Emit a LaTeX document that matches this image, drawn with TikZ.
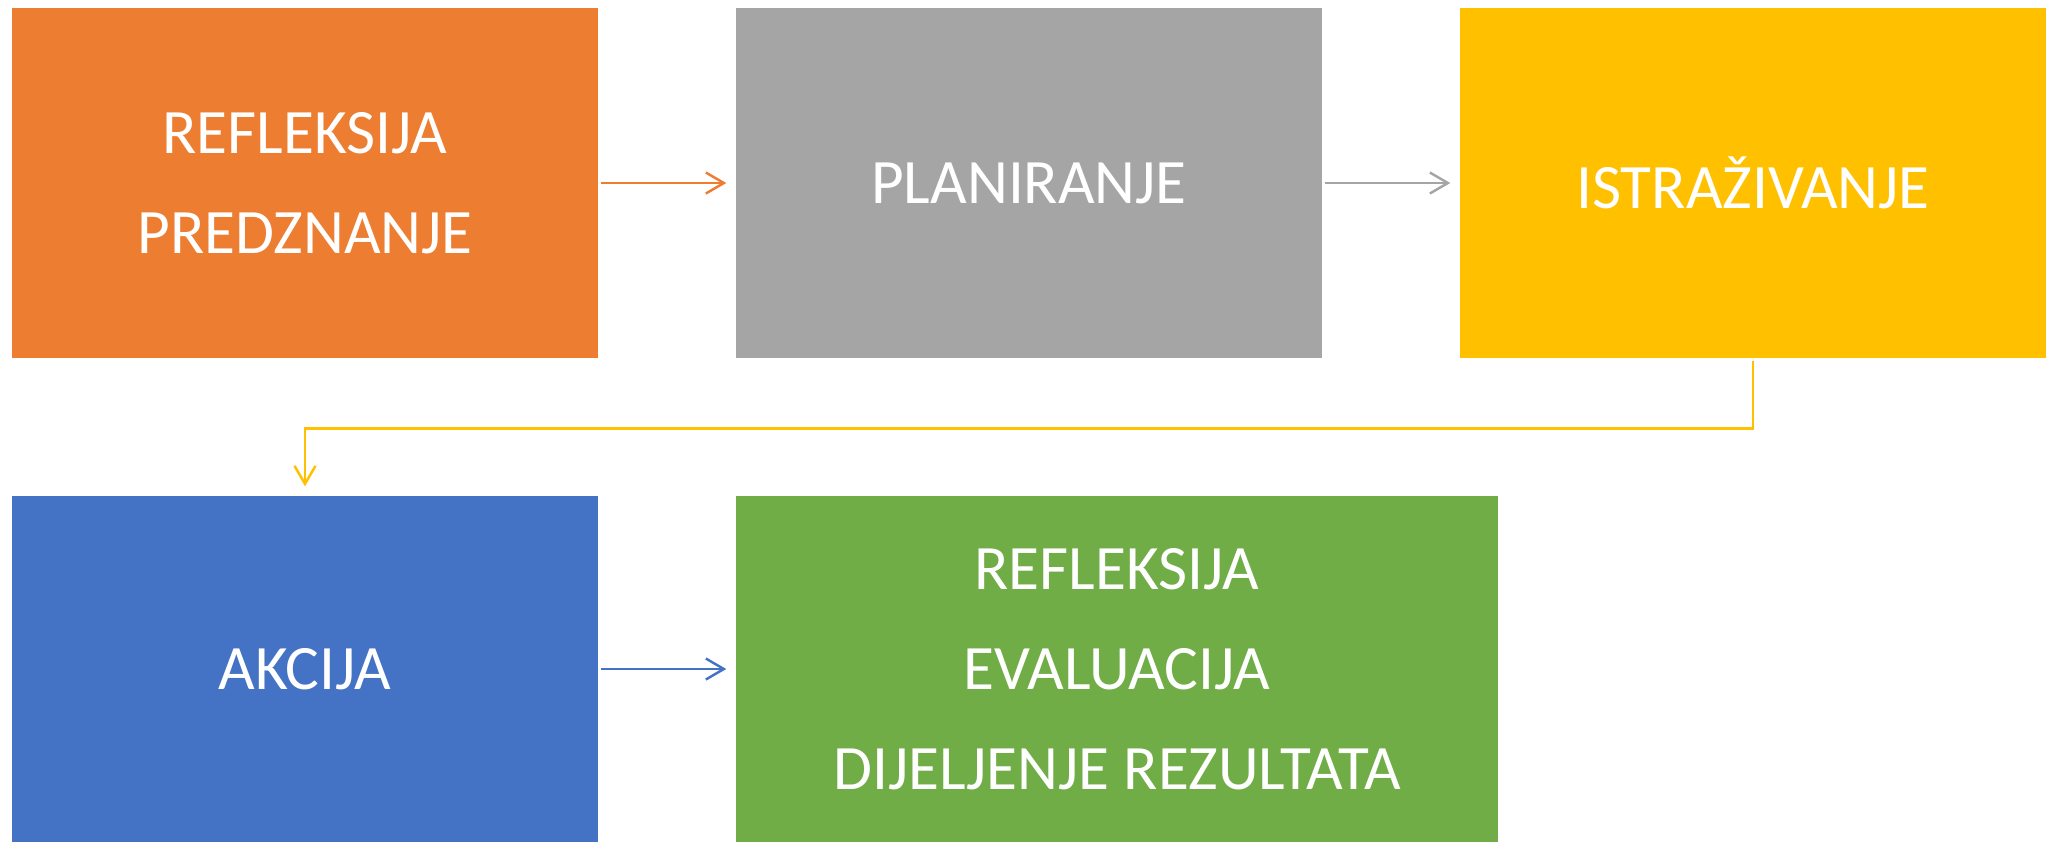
\documentclass[tikz,border=0pt]{standalone}
\usepackage{fontspec}
\setmainfont{Carlito}
\usetikzlibrary{arrows.meta}
\definecolor{korange}{HTML}{ED7D31}
\definecolor{kgray}{HTML}{A5A5A5}
\definecolor{kyellow}{HTML}{FFC000}
\definecolor{kblue}{HTML}{4472C4}
\definecolor{kgreen}{HTML}{70AD47}
\tikzset{
    phase/.style={fill=#1, text=white, align=center, inner sep=0pt,
        minimum width=5.86cm, minimum height=3.5cm,
        font=\fontsize{18}{28.4}\selectfont},
    flow/.style={draw=#1, line width=0.7pt, shorten <=0.02cm, shorten >=0.09cm,
        -{Straight Barb[length=1.8mm,width=2.1mm,line width=0.7pt]}}
}
\begin{document}
\begin{tikzpicture}
        \useasboundingbox (0,0) rectangle (20.57,-8.42);
        % top row
        \node[phase=korange] (refl) at (3.05,-1.83) {REFLEKSIJA\\PREDZNANJE};
        \node[phase=kgray] (plan) at (10.29,-1.83) {PLANIRANJE};
        \node[phase=kyellow] (istr) at (17.53,-1.83) {ISTRAŽIVANJE};
        % bottom row
        \node[phase=kblue, minimum height=3.46cm] (akc) at (3.05,-6.69) {AKCIJA};
        \node[phase=kgreen, minimum width=7.62cm, minimum height=3.46cm] (eval) at (11.17,-6.69)
            {REFLEKSIJA\\EVALUACIJA\\DIJELJENJE REZULTATA};
        % arrows
        \draw[flow=korange] (refl) -- (plan);
        \draw[flow=kgray] (plan) -- (istr);
        \draw[flow=kyellow] (istr.south) -- ++(0,-0.7) -| (akc.north);
        \draw[flow=kblue] (akc) -- (eval);
    \end{tikzpicture}
\end{document}
